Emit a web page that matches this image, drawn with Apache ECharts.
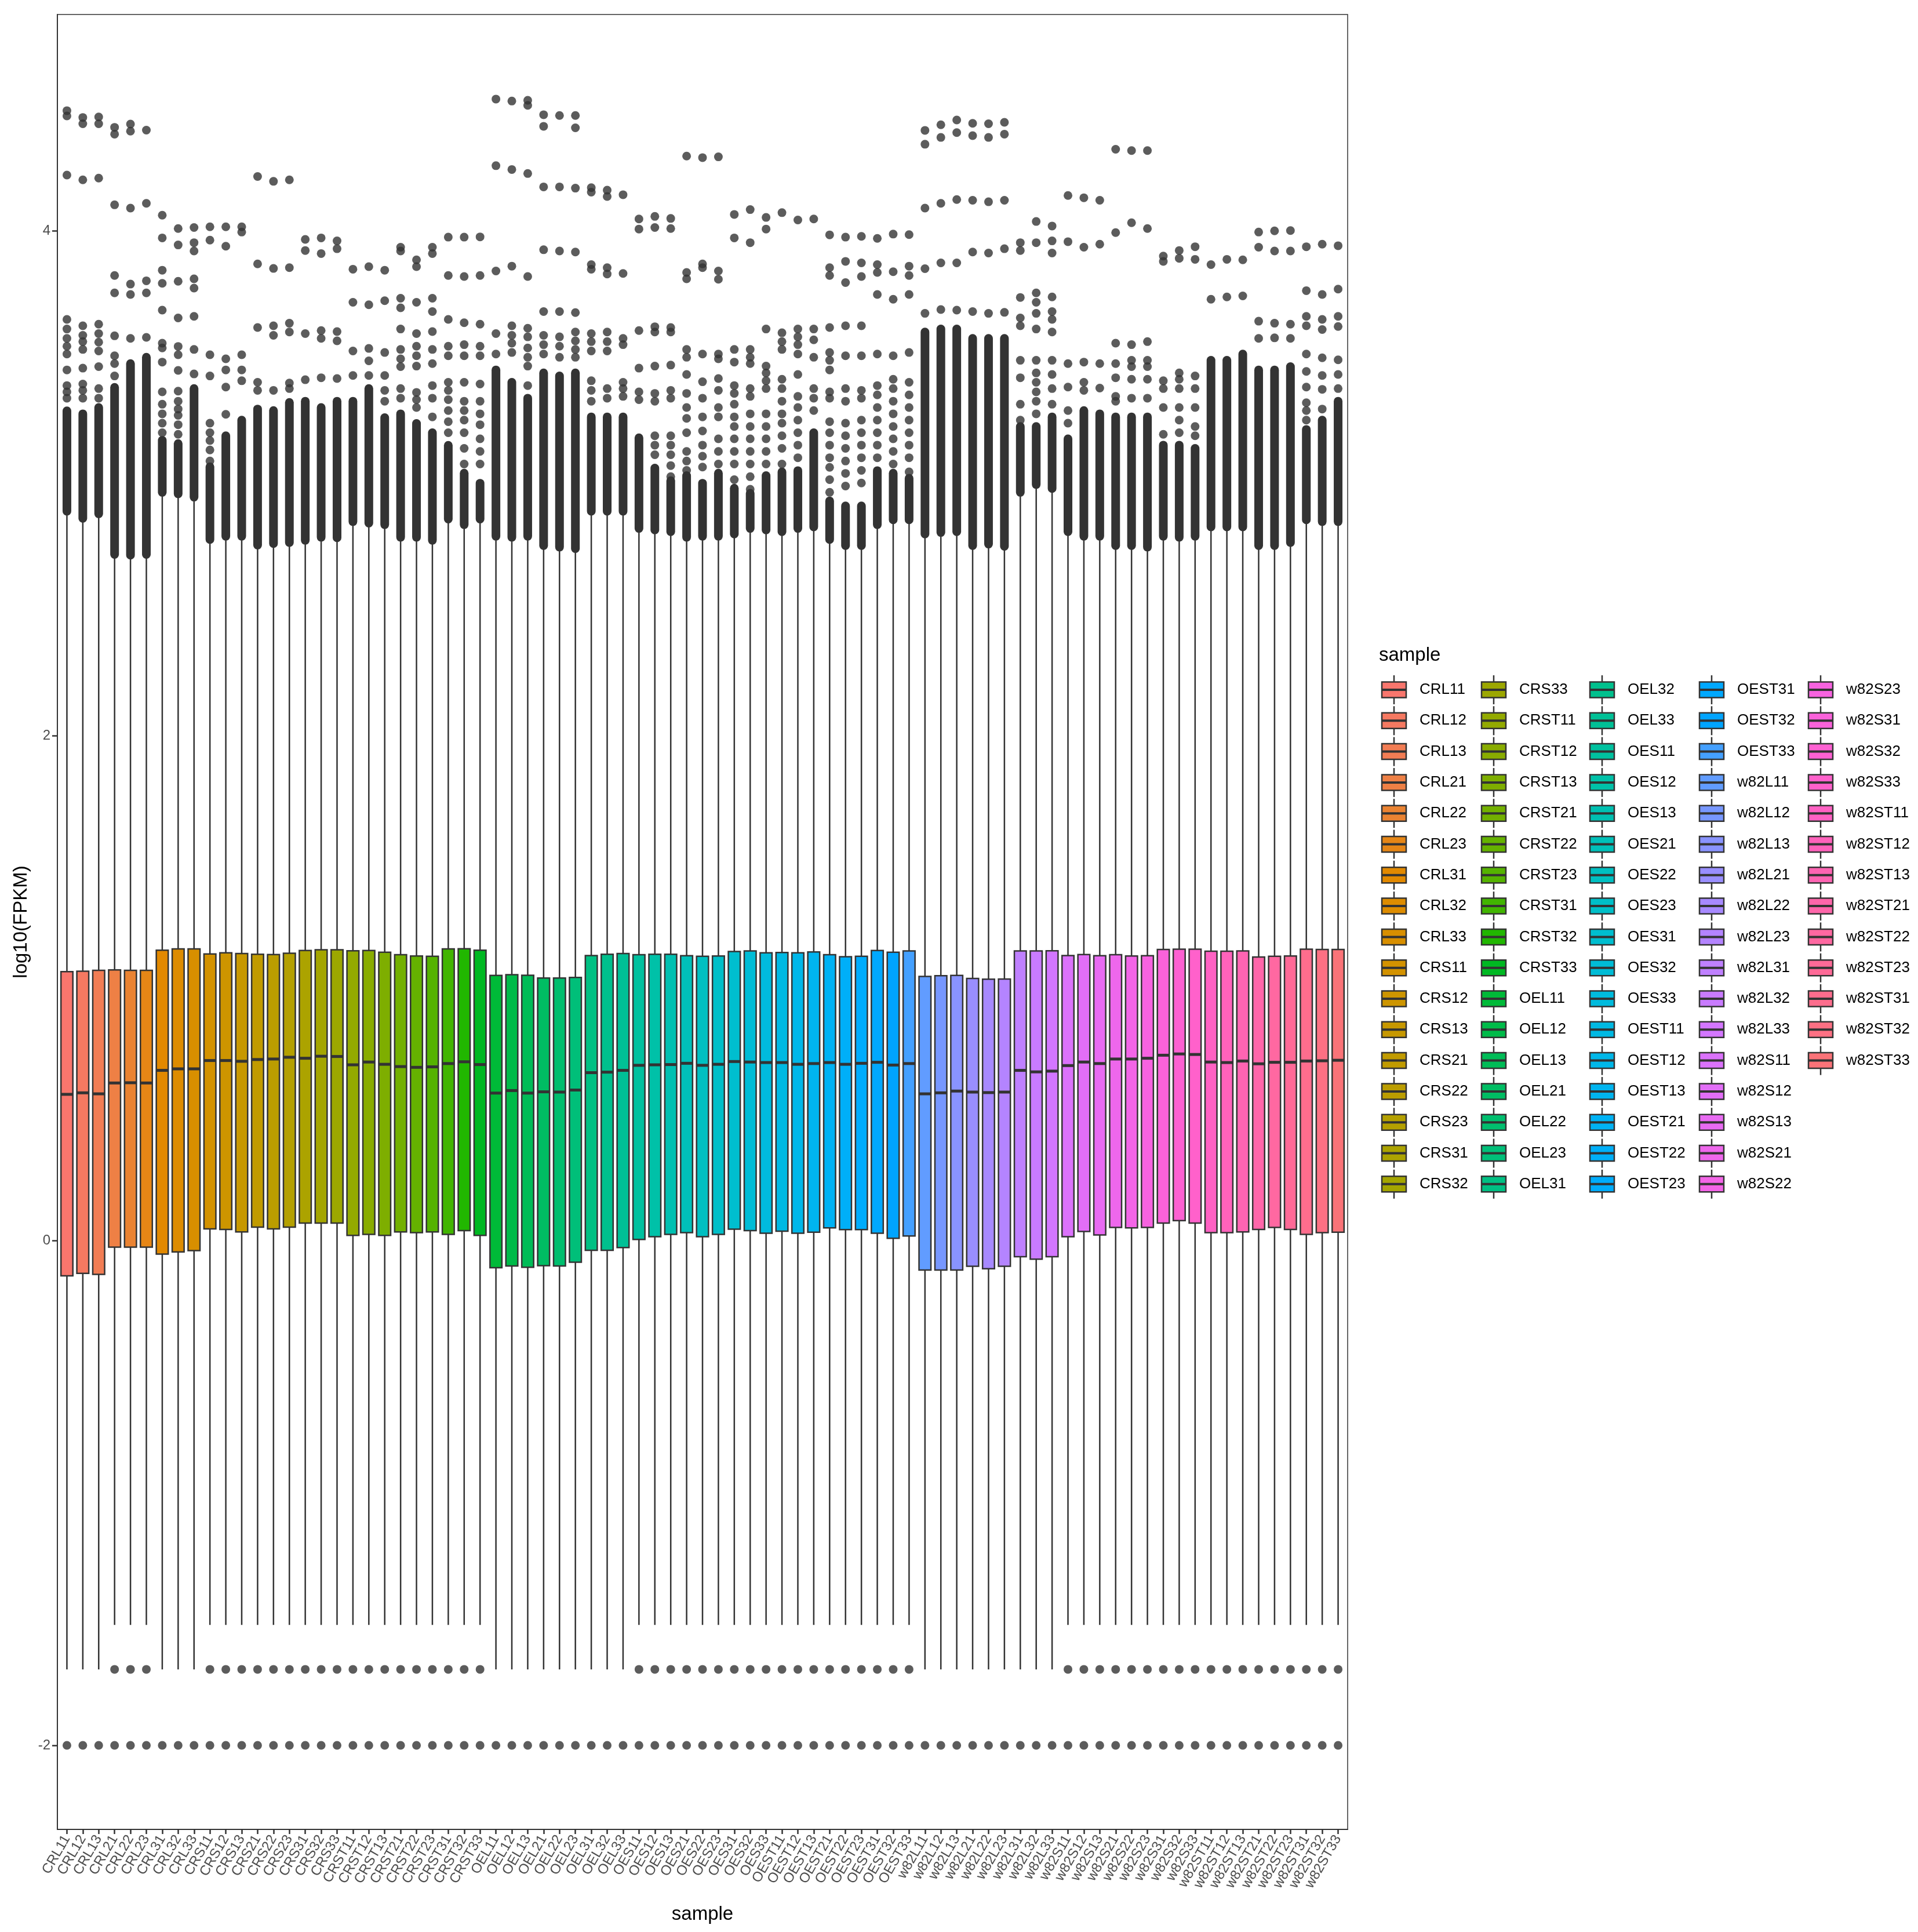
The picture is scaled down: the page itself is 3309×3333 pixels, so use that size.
<!DOCTYPE html>
<html>
<head>
<meta charset="utf-8">
<script src="https://cdn.jsdelivr.net/npm/echarts@6/dist/echarts.min.js"></script>
<style>
  html, body { margin: 0; padding: 0; background: #fff; }
  #chart { width: 3309px; height: 3333px; }
</style>
</head>
<body>
<div id="chart"></div>
<script>
// samples, in plotting order
const samples = [
  'CRL11','CRL12','CRL13','CRL21','CRL22','CRL23','CRL31','CRL32','CRL33',
  'CRS11','CRS12','CRS13','CRS21','CRS22','CRS23','CRS31','CRS32','CRS33',
  'CRST11','CRST12','CRST13','CRST21','CRST22','CRST23','CRST31','CRST32','CRST33',
  'OEL11','OEL12','OEL13','OEL21','OEL22','OEL23','OEL31','OEL32','OEL33',
  'OES11','OES12','OES13','OES21','OES22','OES23','OES31','OES32','OES33',
  'OEST11','OEST12','OEST13','OEST21','OEST22','OEST23','OEST31','OEST32','OEST33',
  'w82L11','w82L12','w82L13','w82L21','w82L22','w82L23','w82L31','w82L32','w82L33',
  'w82S11','w82S12','w82S13','w82S21','w82S22','w82S23','w82S31','w82S32','w82S33',
  'w82ST11','w82ST12','w82ST13','w82ST21','w82ST22','w82ST23','w82ST31','w82ST32','w82ST33'
];

// box statistics, log10(FPKM)
const q3 = [
  1.065,1.067,1.070,1.072,1.070,1.070,1.150,1.155,1.155,
  1.135,1.140,1.137,1.134,1.133,1.138,1.149,1.152,1.152,
  1.148,1.149,1.142,1.132,1.127,1.126,1.155,1.156,1.150,
  1.050,1.053,1.051,1.040,1.040,1.042,1.129,1.134,1.137,
  1.132,1.134,1.134,1.128,1.126,1.127,1.145,1.147,1.140,
  1.141,1.140,1.143,1.132,1.124,1.126,1.149,1.142,1.147,
  1.046,1.049,1.050,1.038,1.035,1.036,1.147,1.147,1.148,
  1.129,1.133,1.128,1.132,1.127,1.128,1.153,1.154,1.154,
  1.146,1.146,1.147,1.123,1.126,1.127,1.154,1.153,1.153
];
const median = [
  0.579,0.585,0.581,0.624,0.625,0.624,0.674,0.680,0.680,
  0.713,0.713,0.710,0.717,0.719,0.726,0.722,0.730,0.729,
  0.696,0.707,0.698,0.689,0.686,0.688,0.701,0.708,0.697,
  0.584,0.594,0.584,0.589,0.588,0.596,0.665,0.667,0.674,
  0.694,0.696,0.697,0.702,0.694,0.698,0.709,0.707,0.705,
  0.705,0.698,0.701,0.705,0.698,0.702,0.706,0.695,0.701,
  0.581,0.585,0.592,0.588,0.586,0.588,0.674,0.668,0.671,
  0.693,0.707,0.701,0.719,0.719,0.722,0.734,0.739,0.737,
  0.707,0.705,0.711,0.700,0.706,0.706,0.711,0.712,0.714
];
const q1 = [
  -0.140,-0.130,-0.134,-0.026,-0.026,-0.026,-0.054,-0.045,-0.040,
  0.046,0.044,0.034,0.053,0.046,0.053,0.069,0.069,0.069,
  0.020,0.024,0.020,0.034,0.031,0.034,0.024,0.039,0.020,
  -0.108,-0.101,-0.106,-0.100,-0.101,-0.086,-0.039,-0.039,-0.028,
  0.004,0.015,0.024,0.031,0.015,0.024,0.045,0.039,0.029,
  0.037,0.029,0.033,0.050,0.043,0.043,0.029,0.009,0.018,
  -0.117,-0.117,-0.117,-0.102,-0.112,-0.102,-0.064,-0.074,-0.064,
  0.015,0.036,0.022,0.052,0.050,0.052,0.069,0.079,0.069,
  0.031,0.031,0.034,0.044,0.052,0.044,0.024,0.031,0.033
];
const whiskerHigh = [
  2.889,2.861,2.879,2.718,2.715,2.718,2.964,2.958,2.945,
  2.777,2.790,2.790,2.755,2.761,2.765,2.774,2.786,2.784,
  2.848,2.842,2.836,2.786,2.786,2.774,2.858,2.836,2.858,
  2.790,2.786,2.790,2.753,2.747,2.741,2.889,2.889,2.889,
  2.821,2.815,2.808,2.786,2.790,2.790,2.799,2.821,2.815,
  2.808,2.821,2.827,2.777,2.753,2.753,2.836,2.855,2.855,
  2.799,2.805,2.808,2.753,2.759,2.750,2.964,2.995,2.979,
  2.808,2.790,2.790,2.753,2.753,2.747,2.790,2.786,2.790,
  2.827,2.827,2.827,2.753,2.753,2.765,2.855,2.848,2.848
];
const whiskerLow = [
  -1.699,-1.699,-1.699,-1.523,-1.523,-1.523,-1.699,-1.699,-1.699,
  -1.523,-1.523,-1.523,-1.523,-1.523,-1.523,-1.523,-1.523,-1.523,
  -1.523,-1.523,-1.523,-1.523,-1.523,-1.523,-1.523,-1.523,-1.523,
  -1.699,-1.699,-1.699,-1.699,-1.699,-1.699,-1.699,-1.699,-1.699,
  -1.523,-1.523,-1.523,-1.523,-1.523,-1.523,-1.523,-1.523,-1.523,
  -1.523,-1.523,-1.523,-1.523,-1.523,-1.523,-1.523,-1.523,-1.523,
  -1.699,-1.699,-1.699,-1.699,-1.699,-1.699,-1.699,-1.699,-1.699,
  -1.523,-1.523,-1.523,-1.523,-1.523,-1.523,-1.523,-1.523,-1.523,
  -1.523,-1.523,-1.523,-1.523,-1.523,-1.523,-1.523,-1.523,-1.523
];
// top of the packed run of outliers just above the upper whisker
const denseTop = [
  3.287,3.275,3.300,3.380,3.474,3.499,3.170,3.157,3.375,
  3.065,3.188,3.250,3.294,3.288,3.320,3.325,3.300,3.325,
  3.325,3.375,3.260,3.275,3.237,3.200,3.150,3.040,3.000,
  3.449,3.400,3.337,3.437,3.425,3.437,3.263,3.263,3.263,
  3.180,3.060,3.010,3.030,3.000,3.040,2.980,2.960,3.030,
  3.045,3.050,3.200,2.930,2.910,2.910,3.050,3.040,3.020,
  3.599,3.611,3.611,3.574,3.574,3.574,3.225,3.225,3.263,
  3.176,3.288,3.275,3.263,3.263,3.263,3.151,3.151,3.138,
  3.487,3.487,3.512,3.449,3.449,3.462,3.213,3.250,3.325
];
// separate outliers above the packed run
const upperOutliers = [
  [3.337,3.362,3.387,3.449,3.512,3.543,3.574,3.611,3.649,4.221,4.455,4.476],
  [3.337,3.368,3.393,3.456,3.530,3.561,3.586,3.624,4.202,4.424,4.449],
  [3.337,3.375,3.462,3.524,3.559,3.593,3.630,4.209,4.424,4.451],
  [3.425,3.474,3.505,3.584,3.754,3.823,4.103,4.383,4.410],
  [3.574,3.748,3.789,4.090,4.395,4.423],
  [3.578,3.754,3.802,4.109,4.399],
  [3.200,3.238,3.275,3.313,3.362,3.480,3.536,3.555,3.686,3.792,3.844,3.972,4.062],
  [3.194,3.232,3.269,3.294,3.325,3.365,3.447,3.509,3.542,3.655,3.800,3.944,4.009],
  [3.433,3.530,3.661,3.773,3.810,3.920,3.953,4.013],
  [3.088,3.132,3.169,3.200,3.238,3.425,3.509,3.963,4.016],
  [3.273,3.381,3.449,3.493,3.939,4.016],
  [3.406,3.449,3.509,3.995,4.016],
  [3.368,3.400,3.617,3.869,4.215],
  [3.368,3.586,3.624,3.851,4.196],
  [3.375,3.397,3.599,3.634,3.854,4.202],
  [3.410,3.593,3.922,3.966],
  [3.418,3.574,3.605,3.910,3.972],
  [3.415,3.564,3.601,3.929,3.960],
  [3.427,3.524,3.717,3.848],
  [3.427,3.485,3.534,3.707,3.858],
  [3.325,3.368,3.427,3.518,3.723,3.844],
  [3.337,3.375,3.462,3.493,3.530,3.611,3.695,3.733,3.920,3.935],
  [3.300,3.331,3.360,3.464,3.505,3.543,3.593,3.717,3.858,3.885],
  [3.263,3.337,3.387,3.474,3.530,3.601,3.680,3.733,3.910,3.935],
  [3.200,3.244,3.288,3.331,3.368,3.400,3.505,3.543,3.649,3.823,3.975],
  [3.076,3.138,3.200,3.250,3.288,3.325,3.400,3.505,3.549,3.636,3.819,3.975],
  [3.076,3.126,3.176,3.232,3.275,3.325,3.393,3.505,3.543,3.630,3.823,3.976],
  [3.512,3.593,3.841,4.258,4.522],
  [3.518,3.555,3.586,3.624,3.860,4.243,4.514],
  [3.387,3.464,3.499,3.536,3.580,3.614,3.819,4.227,4.497,4.517],
  [3.512,3.549,3.586,3.680,3.925,4.174,4.414,4.460],
  [3.499,3.543,3.580,3.680,3.920,4.174,4.457],
  [3.499,3.530,3.564,3.599,3.676,3.916,4.169,4.408,4.457],
  [3.325,3.368,3.406,3.524,3.561,3.593,3.848,3.866,4.153,4.171],
  [3.337,3.375,3.524,3.561,3.599,3.829,3.854,4.136,4.161],
  [3.344,3.375,3.400,3.549,3.574,3.831,4.143],
  [3.331,3.362,3.456,3.605,4.007,4.047],
  [3.113,3.151,3.188,3.325,3.356,3.464,3.599,3.620,4.013,4.057],
  [3.026,3.070,3.113,3.151,3.188,3.337,3.368,3.468,3.599,3.617,4.009,4.049],
  [3.051,3.088,3.126,3.200,3.257,3.300,3.356,3.431,3.499,3.530,3.810,3.835,4.296],
  [3.064,3.107,3.151,3.207,3.263,3.337,3.402,3.512,3.854,3.869,4.290],
  [3.076,3.126,3.176,3.263,3.300,3.368,3.415,3.493,3.512,3.808,3.841,4.293],
  [3.014,3.076,3.126,3.176,3.225,3.263,3.313,3.356,3.387,3.480,3.530,3.972,4.065],
  [2.976,3.026,3.076,3.126,3.176,3.225,3.275,3.344,3.375,3.474,3.499,3.530,3.953,4.084],
  [3.076,3.126,3.176,3.225,3.275,3.375,3.406,3.437,3.464,3.611,4.007,4.053],
  [3.076,3.138,3.188,3.238,3.275,3.325,3.375,3.412,3.530,3.561,3.596,4.072],
  [3.101,3.151,3.200,3.250,3.300,3.344,3.431,3.512,3.549,3.580,3.611,4.043],
  [3.288,3.337,3.375,3.499,3.568,3.611,4.047],
  [2.964,3.014,3.063,3.101,3.151,3.200,3.244,3.337,3.362,3.449,3.487,3.518,3.617,3.823,3.854,3.984],
  [2.989,3.039,3.088,3.138,3.188,3.238,3.325,3.375,3.505,3.624,3.795,3.879,3.975],
  [3.001,3.051,3.101,3.151,3.200,3.250,3.337,3.368,3.505,3.624,3.819,3.873,3.978],
  [3.101,3.151,3.200,3.250,3.300,3.350,3.387,3.512,3.748,3.835,3.866,3.970],
  [3.076,3.126,3.176,3.225,3.275,3.325,3.375,3.412,3.505,3.729,3.838,3.987],
  [3.045,3.101,3.151,3.200,3.250,3.300,3.350,3.400,3.518,3.748,3.823,3.860,3.985],
  [3.673,3.850,4.090,4.343,4.398],
  [3.688,3.873,4.109,4.370,4.420],
  [3.686,3.873,4.124,4.389,4.439],
  [3.680,3.916,4.121,4.377,4.426],
  [3.673,3.912,4.115,4.370,4.424],
  [3.677,3.929,4.121,4.383,4.430],
  [3.250,3.313,3.418,3.487,3.624,3.655,3.736,3.922,3.953],
  [3.275,3.325,3.362,3.400,3.437,3.487,3.611,3.673,3.717,3.754,3.953,4.037],
  [3.313,3.375,3.431,3.487,3.599,3.649,3.680,3.738,3.912,3.960,4.019],
  [3.238,3.288,3.381,3.474,3.957,4.140],
  [3.368,3.400,3.480,3.935,4.131],
  [3.377,3.474,3.947,4.121],
  [3.325,3.344,3.418,3.474,3.555,3.993,4.323],
  [3.337,3.412,3.462,3.487,3.549,4.032,4.318],
  [3.337,3.412,3.462,3.487,3.561,4.009,4.318],
  [3.194,3.300,3.375,3.406,3.879,3.900],
  [3.200,3.250,3.300,3.375,3.412,3.437,3.891,3.922],
  [3.188,3.225,3.300,3.375,3.425,3.887,3.937],
  [3.729,3.866],
  [3.738,3.887],
  [3.742,3.885],
  [3.574,3.642,3.935,3.995],
  [3.576,3.634,3.920,4.000],
  [3.574,3.630,3.920,4.001],
  [3.250,3.288,3.319,3.381,3.443,3.512,3.624,3.661,3.763,3.937],
  [3.294,3.372,3.427,3.497,3.609,3.649,3.748,3.947],
  [3.375,3.431,3.489,3.621,3.661,3.769,3.941]
];
const lowerOutliers = [
  [-2],[-2],[-2],[-1.699,-2],[-1.699,-2],[-1.699,-2],[-2],[-2],[-2],
  [-1.699,-2],[-1.699,-2],[-1.699,-2],[-1.699,-2],[-1.699,-2],[-1.699,-2],[-1.699,-2],[-1.699,-2],[-1.699,-2],
  [-1.699,-2],[-1.699,-2],[-1.699,-2],[-1.699,-2],[-1.699,-2],[-1.699,-2],[-1.699,-2],[-1.699,-2],[-1.699,-2],
  [-2],[-2],[-2],[-2],[-2],[-2],[-2],[-2],[-2],
  [-1.699,-2],[-1.699,-2],[-1.699,-2],[-1.699,-2],[-1.699,-2],[-1.699,-2],[-1.699,-2],[-1.699,-2],[-1.699,-2],
  [-1.699,-2],[-1.699,-2],[-1.699,-2],[-1.699,-2],[-1.699,-2],[-1.699,-2],[-1.699,-2],[-1.699,-2],[-1.699,-2],
  [-2],[-2],[-2],[-2],[-2],[-2],[-2],[-2],[-2],
  [-1.699,-2],[-1.699,-2],[-1.699,-2],[-1.699,-2],[-1.699,-2],[-1.699,-2],[-1.699,-2],[-1.699,-2],[-1.699,-2],
  [-1.699,-2],[-1.699,-2],[-1.699,-2],[-1.699,-2],[-1.699,-2],[-1.699,-2],[-1.699,-2],[-1.699,-2],[-1.699,-2]
];
const yTicks = [-2, 0, 2, 4];

const INK = '#333333';
const FONT = '"Liberation Sans", Arial, Helvetica, sans-serif';

// ggplot2 default hue palette (hcl, l=65, c=100)
function hueColour(h) {
  const L = 65, C = 100;
  const hr = h * Math.PI / 180;
  const U = C * Math.cos(hr), V = C * Math.sin(hr);
  const Xn = 95.047, Yn = 100, Zn = 108.883;
  const Y = Yn * Math.pow((L + 16) / 116, 3);
  const t = Xn + 15 * Yn + 3 * Zn;
  const u = U / (13 * L) + 4 * Xn / t;
  const v = V / (13 * L) + 9 * Yn / t;
  const X = 9 * Y * u / (4 * v);
  const Z = -X / 3 - 5 * Y + 3 * Y / v;
  const g = c => {
    c = c > 0.00304 ? 1.055 * Math.pow(c, 1 / 2.4) - 0.055 : 12.92 * c;
    return Math.round(255 * Math.min(1, Math.max(0, c)));
  };
  const r = g((3.240479 * X - 1.537150 * Y - 0.498535 * Z) / Yn);
  const gg = g((-0.969256 * X + 1.875992 * Y + 0.041556 * Z) / Yn);
  const b = g((0.055648 * X - 0.204043 * Y + 1.057311 * Z) / Yn);
  return 'rgb(' + r + ',' + gg + ',' + b + ')';
}
const colours = samples.map((s, i) => hueColour(15 + 360 * i / samples.length));

const boxData = samples.map((s, i) =>
  [i + 1, whiskerLow[i], q1[i], median[i], q3[i], whiskerHigh[i], denseTop[i]]);

const outlierData = [];
samples.forEach((s, i) => {
  upperOutliers[i].forEach(v => outlierData.push([i + 1, v]));
  lowerOutliers[i].forEach(v => outlierData.push([i + 1, v]));
});

function renderBox(params, api) {
  const xv = api.value(0);
  const x = api.coord([xv, 0])[0];
  const y = k => api.coord([xv, api.value(k)])[1];
  const half = api.size([0.75, 0])[0] / 2;
  const yLow = y(1), yQ1 = y(2), yMed = y(3), yQ3 = y(4), yHigh = y(5), yDense = y(6);
  const line = { stroke: INK, lineWidth: 2.5 };
  const dot = 7.5;
  return {
    type: 'group',
    children: [
      { type: 'line', shape: { x1: x, y1: yLow, x2: x, y2: yQ1 }, style: line },
      { type: 'line', shape: { x1: x, y1: yQ3, x2: x, y2: yHigh }, style: line },
      { type: 'rect', shape: { x: x - half, y: yQ3, width: 2 * half, height: yQ1 - yQ3 },
        style: { fill: colours[params.dataIndex], stroke: INK, lineWidth: 2.5 } },
      { type: 'line', shape: { x1: x - half, y1: yMed, x2: x + half, y2: yMed },
        style: { stroke: INK, lineWidth: 5 } },
      { type: 'rect', shape: { x: x - dot, y: yDense - dot, width: 2 * dot,
        height: yHigh - yDense + 2 * dot, r: dot }, style: { fill: INK } }
    ]
  };
}

// legend: 17 rows per column, filled column by column
const legendCols = [2405, 2577, 2764, 2953, 3141];
const legendTop = 1190, legendStep = 53.3;
const legendItems = [];
samples.forEach((s, i) => {
  const cx = legendCols[Math.floor(i / 17)];
  const cy = legendTop + (i % 17) * legendStep;
  legendItems.push({
    type: 'group', x: cx, y: cy,
    children: [
      { type: 'line', shape: { x1: 0, y1: -25, x2: 0, y2: -13.5 }, style: { stroke: INK, lineWidth: 2.5 } },
      { type: 'line', shape: { x1: 0, y1: 13.5, x2: 0, y2: 25 }, style: { stroke: INK, lineWidth: 2.5 } },
      { type: 'rect', shape: { x: -21, y: -13.5, width: 42, height: 27 },
        style: { fill: colours[i], stroke: INK, lineWidth: 2.5 } },
      { type: 'line', shape: { x1: -21, y1: 0, x2: 21, y2: 0 }, style: { stroke: INK, lineWidth: 4 } },
      { type: 'text', x: 44, y: 0,
        style: { text: s, fill: '#000', font: '26px ' + FONT, verticalAlign: 'middle', align: 'left' } }
    ]
  });
});
legendItems.push({
  type: 'text', left: 2379, top: 1114,
  style: { text: 'sample', fill: '#000', font: '33px ' + FONT }
});

// tick labels split over two axes (odd / even positions) so that
// no label is dropped by the overlap check of one axis
const allPos = samples.map((s, i) => i + 1);
const oddPos = allPos.filter(p => p % 2 === 1);
const evenPos = allPos.filter(p => p % 2 === 0);
const xLabel = positions => ({
  customValues: positions,
  formatter: v => samples[Math.round(v) - 1],
  showMinLabel: true, showMaxLabel: true, hideOverlap: false,
  rotate: 60, fontSize: 24, color: '#4D4D4D', margin: 12, fontFamily: FONT
});

const chart = echarts.init(document.getElementById('chart'), null, { renderer: 'canvas' });
chart.setOption({
  backgroundColor: '#ffffff',
  animation: false,
  textStyle: { fontFamily: FONT },
  grid: {
    left: 99, top: 25, width: 2226, height: 3131,
    show: true, borderColor: INK, borderWidth: 1.5, backgroundColor: 'transparent'
  },
  xAxis: [
    {
      type: 'value', min: 0.4, max: 81.6, position: 'bottom',
      name: 'sample', nameLocation: 'middle', nameGap: 130,
      nameTextStyle: { fontSize: 33, color: '#000', fontFamily: FONT },
      axisLine: { show: true, onZero: false, lineStyle: { color: INK, width: 2 } },
      axisTick: { show: true, length: 8, lineStyle: { color: INK, width: 2.5 }, customValues: allPos },
      axisLabel: xLabel(oddPos),
      splitLine: { show: false }
    },
    {
      type: 'value', min: 0.4, max: 81.6, position: 'bottom', offset: 0,
      axisLine: { show: false },
      axisTick: { show: false },
      axisLabel: xLabel(evenPos),
      splitLine: { show: false }
    }
  ],
  yAxis: {
    type: 'value', min: -2.333, max: 4.857,
    name: 'log10(FPKM)', nameLocation: 'middle', nameGap: 46, nameRotate: 90,
    nameTextStyle: { fontSize: 33, color: '#000', fontFamily: FONT },
    axisLine: { show: true, onZero: false, lineStyle: { color: INK, width: 2 } },
    axisTick: { show: true, length: 9, lineStyle: { color: INK, width: 2.5 }, customValues: yTicks },
    axisLabel: { customValues: yTicks, fontSize: 24, color: '#4D4D4D', margin: 12, fontFamily: FONT,
      showMinLabel: true, showMaxLabel: true },
    splitLine: { show: false }
  },
  series: [
    {
      type: 'custom',
      renderItem: renderBox,
      data: boxData,
      xAxisIndex: 0,
      encode: { x: 0, y: [1, 2, 3, 4, 5, 6] },
      z: 2
    },
    {
      type: 'scatter',
      data: outlierData,
      xAxisIndex: 0,
      symbol: 'circle',
      symbolSize: 15,
      itemStyle: { color: INK },
      z: 3
    }
  ],
  graphic: legendItems
});
</script>
</body>
</html>
